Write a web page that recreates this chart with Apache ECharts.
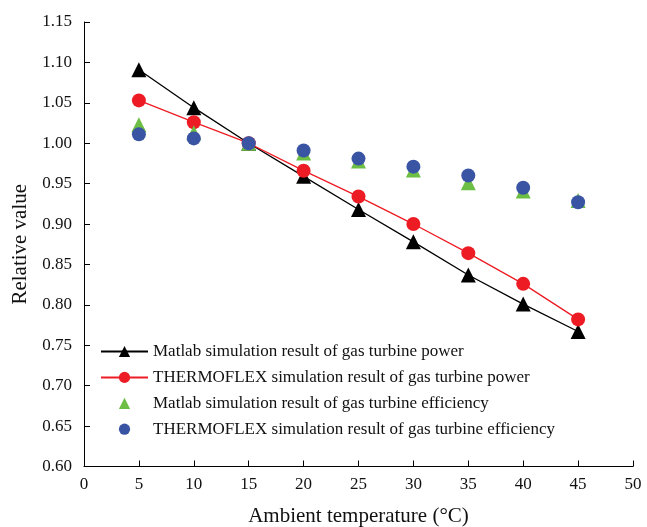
<!DOCTYPE html>
<html><head><meta charset="utf-8">
<script src="https://cdn.jsdelivr.net/npm/echarts@6/dist/echarts.min.js"></script>
<style>html,body{margin:0;padding:0;background:#fff}#c{width:647px;height:527px}</style>
</head><body><div id="c"></div>
<script>
const temps = [5, 10, 15, 20, 25, 30, 35, 40, 45];
const matlabPower = [1.091, 1.044, 1.000, 0.959, 0.918, 0.878, 0.837, 0.801, 0.767];
const thermoPower = [1.053, 1.026, 1.000, 0.966, 0.934, 0.900, 0.864, 0.826, 0.782];
const matlabEff = [1.023, 1.013, 1.000, 0.988, 0.978, 0.967, 0.951, 0.941, 0.929];
const thermoEff = [1.011, 1.006, 1.000, 0.991, 0.981, 0.971, 0.960, 0.945, 0.927];
const names = [
  'Matlab simulation result of gas turbine power',
  'THERMOFLEX simulation result of gas turbine power',
  'Matlab simulation result of gas turbine efficiency',
  'THERMOFLEX simulation result of gas turbine efficiency'
];
const pair = arr => temps.map((t, i) => [t, arr[i]]);
const font = 'Liberation Serif';
const chart = echarts.init(document.getElementById('c'));
chart.setOption({
  animation: false,
  textStyle: {fontFamily: font},
  grid: {left: 84, right: 14, top: 22, bottom: 60.5, outerBoundsMode: 'none', containLabel: false},
  legend: {
    orient: 'vertical', left: 95, top: 338,
    itemWidth: 47, itemHeight: 14, itemGap: 8.9,
    textStyle: {fontFamily: font, fontSize: 17, lineHeight: 17, color: '#111'},
    data: names
  },
  xAxis: {
    type: 'value', min: 0, max: 50, interval: 5,
    name: 'Ambient temperature (°C)', nameLocation: 'middle', nameGap: 39,
    nameTextStyle: {fontFamily: font, fontSize: 21, color: '#111'},
    axisLine: {lineStyle: {color: '#000', width: 1}},
    axisTick: {inside: true, length: 6, lineStyle: {color: '#000'}},
    axisLabel: {fontFamily: font, fontSize: 17, color: '#111', margin: 10},
    splitLine: {show: false}
  },
  yAxis: {
    type: 'value', min: 0.60, max: 1.15, interval: 0.05,
    name: 'Relative value', nameLocation: 'middle', nameGap: 48,
    nameTextStyle: {fontFamily: font, fontSize: 21, color: '#111'},
    axisLine: {show: true, lineStyle: {color: '#000', width: 1}},
    axisTick: {show: true, inside: true, length: 6, lineStyle: {color: '#000'}},
    axisLabel: {fontFamily: font, fontSize: 17, color: '#111', margin: 12,
      formatter: v => v.toFixed(2)},
    splitLine: {show: false}
  },
  series: [
    {name: names[0], type: 'line', data: pair(matlabPower), symbol: 'triangle', symbolSize: 15,
      itemStyle: {color: '#000'}, lineStyle: {color: '#000', width: 1.3}},
    {name: names[1], type: 'line', data: pair(thermoPower), symbol: 'circle', symbolSize: 14,
      itemStyle: {color: '#ED1C24'}, lineStyle: {color: '#ED1C24', width: 1.3}},
    {name: names[2], type: 'line', data: pair(matlabEff), symbol: 'triangle', symbolSize: 15,
      itemStyle: {color: '#6DBE45'}, lineStyle: {opacity: 0}},
    {name: names[3], type: 'line', data: pair(thermoEff), symbol: 'circle', symbolSize: 14,
      itemStyle: {color: '#3A54A4'}, lineStyle: {opacity: 0}}
  ]
});
</script></body></html>
